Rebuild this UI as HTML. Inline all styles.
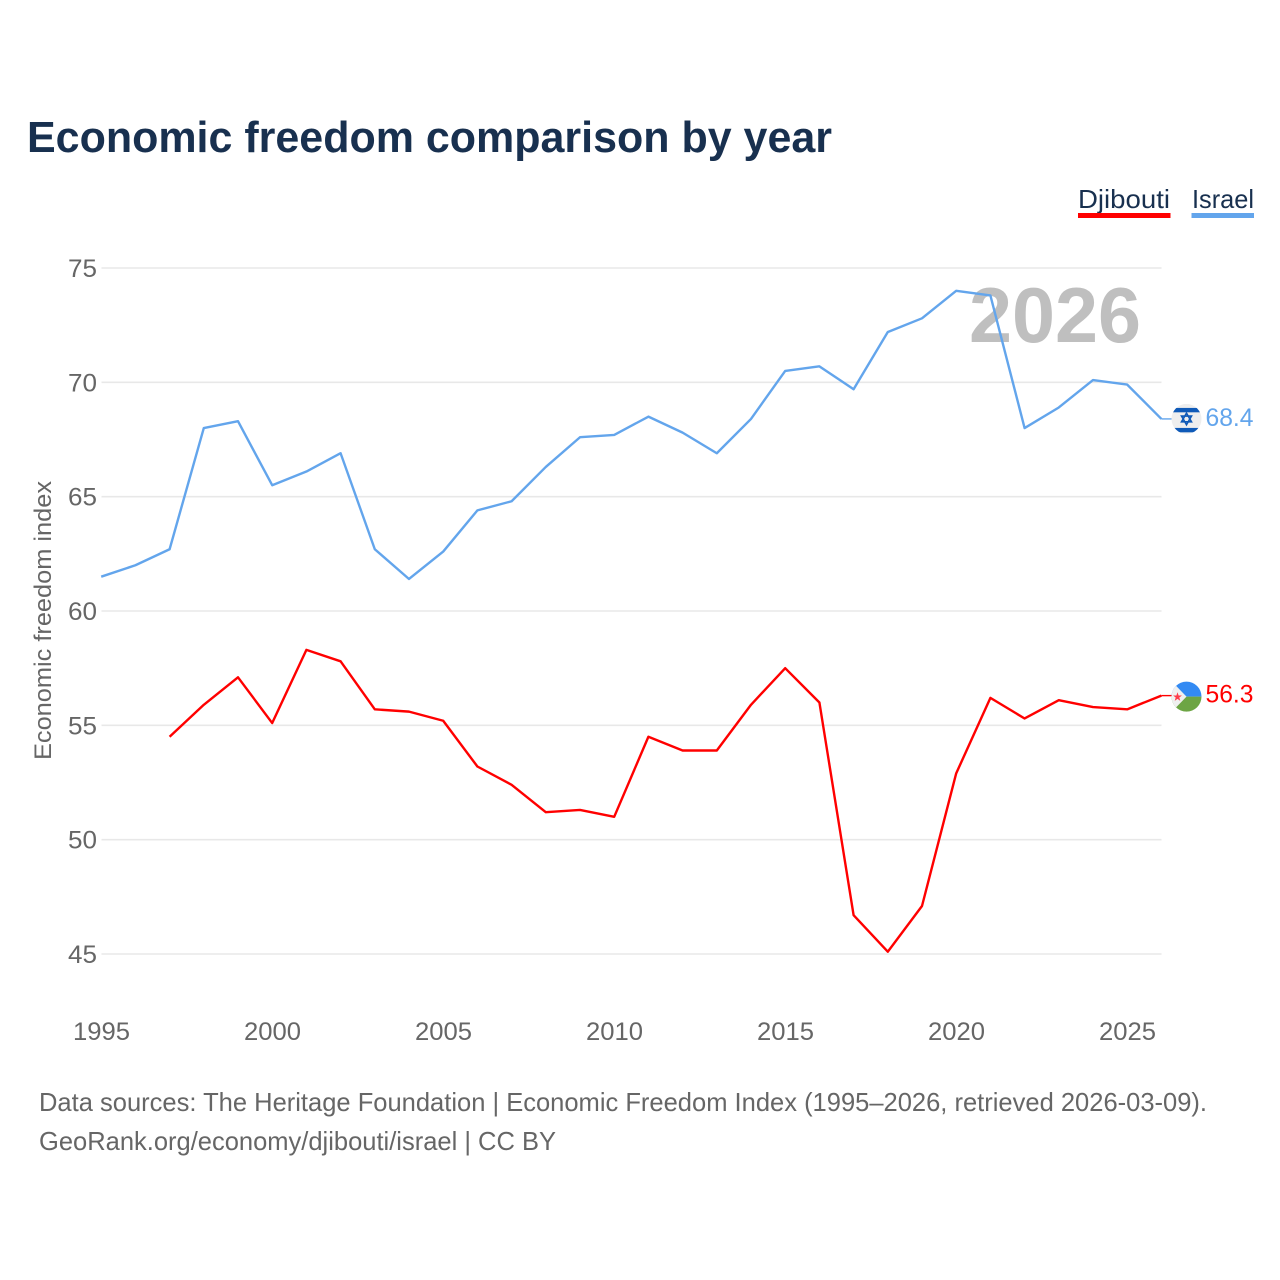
<!DOCTYPE html>
<html lang="en">
<head>
<meta charset="utf-8">
<title>Economic freedom comparison by year</title>
<style>
html,body{margin:0;padding:0;background:#fff;width:1280px;height:1280px;overflow:hidden}
svg{display:block;font-family:"Liberation Sans",sans-serif}
</style>
</head>
<body>
<svg id="chart" width="1280" height="1280" viewBox="0 0 1280 1280" xmlns="http://www.w3.org/2000/svg">
  <defs>
    <clipPath id="il-clip"><circle cx="0" cy="0" r="15"></circle></clipPath>
    <clipPath id="dj-clip"><circle cx="0" cy="0" r="15"></circle></clipPath>
  </defs>
  <text x="27" y="152" font-size="44" font-weight="700" fill="#18304f" textLength="805" lengthAdjust="spacingAndGlyphs">Economic freedom comparison by year</text>
  <g id="gridlayer"></g>
  <text x="1141" y="342" text-anchor="end" font-size="78" font-weight="700" fill="#bfbfbf" textLength="172" lengthAdjust="spacingAndGlyphs">2026</text>
  <g id="linelayer"></g>
  <g id="endlayer"></g>
  <g id="xlayer"></g>
  <text transform="translate(51,620.5) rotate(-90)" text-anchor="middle" font-size="24" fill="#666666" textLength="279" lengthAdjust="spacingAndGlyphs">Economic freedom index</text>
  <g>
    <text x="1078" y="208" font-size="26" fill="#18304f" textLength="92" lengthAdjust="spacingAndGlyphs">Djibouti</text>
    <rect x="1078" y="213" width="92.5" height="5" fill="#ff0000"></rect>
  </g>
  <g>
    <text x="1192" y="208" font-size="26" fill="#18304f" textLength="62" lengthAdjust="spacingAndGlyphs">Israel</text>
    <rect x="1191.5" y="213" width="62.5" height="5" fill="#63a5ec"></rect>
  </g>
  <text x="39" y="1111" font-size="26" fill="#666666" textLength="1168" lengthAdjust="spacingAndGlyphs">Data sources: The Heritage Foundation | Economic Freedom Index (1995–2026, retrieved 2026-03-09).</text>
  <text x="39" y="1150" font-size="26" fill="#666666" textLength="517" lengthAdjust="spacingAndGlyphs">GeoRank.org/economy/djibouti/israel | CC BY</text>
</svg>
<script>
const years = [1995,1996,1997,1998,1999,2000,2001,2002,2003,2004,2005,2006,2007,2008,2009,2010,2011,2012,2013,2014,2015,2016,2017,2018,2019,2020,2021,2022,2023,2024,2025,2026];
const israelValues = [61.5,62.0,62.7,68.0,68.3,65.5,66.1,66.9,62.7,61.4,62.6,64.4,64.8,66.3,67.6,67.7,68.5,67.8,66.9,68.4,70.5,70.7,69.7,72.2,72.8,74.0,73.8,68.0,68.9,70.1,69.9,68.4];
const djiboutiValues = [null,null,54.5,55.9,57.1,55.1,58.3,57.8,55.7,55.6,55.2,53.2,52.4,51.2,51.3,51.0,54.5,53.9,53.9,55.9,57.5,56.0,46.7,45.1,47.1,52.9,56.2,55.3,56.1,55.8,55.7,56.3];
const yTicks = [45,50,55,60,65,70,75];
const xTicks = [1995,2000,2005,2010,2015,2020,2025];

const NS = 'http://www.w3.org/2000/svg';
const xScale = function (year) { return 101.2 + (year - 1995) * 34.2; };
const yScale = function (value) { return 268 + (75 - value) * 22.867; };
const make = function (tag, parent) {
  const el = document.createElementNS(NS, tag);
  parent.appendChild(el);
  return el;
};
const gridLayer = document.getElementById('gridlayer');
const lineLayer = document.getElementById('linelayer');
const endLayer = document.getElementById('endlayer');
const xLayer = document.getElementById('xlayer');

yTicks.forEach(function (tick) {
  const line = make('line', gridLayer);
  
  
  line.setAttribute('x1', 101.5);
  line.setAttribute('x2', 1161.5);
  line.setAttribute('y1', yScale(tick));
  line.setAttribute('y2', yScale(tick));
  line.setAttribute('stroke', '#e8e8e8');
  line.setAttribute('stroke-width', '1.6');
  const label = make('text', gridLayer);
  
  
  label.setAttribute('x', 97);
  label.setAttribute('y', yScale(tick) + 9);
  label.setAttribute('text-anchor', 'end');
  label.setAttribute('font-size', '25');
  label.setAttribute('fill', '#666666');
  label.setAttribute('textLength', '29');
  label.setAttribute('lengthAdjust', 'spacingAndGlyphs');
  label.textContent = tick;
});

xTicks.forEach(function (tick) {
  const label = make('text', xLayer);
  
  
  label.setAttribute('x', xScale(tick) + 0.3);
  label.setAttribute('y', 1040);
  label.setAttribute('text-anchor', 'middle');
  label.setAttribute('font-size', '25');
  label.setAttribute('fill', '#666666');
  label.setAttribute('textLength', '57');
  label.setAttribute('lengthAdjust', 'spacingAndGlyphs');
  label.textContent = tick;
});

const linePoints = function (values) {
  const pts = [];
  values.forEach(function (v, i) {
    if (v !== null) { pts.push(xScale(years[i]).toFixed(2) + ',' + yScale(v).toFixed(2)); }
  });
  return pts.join(' ');
};

const israelLine = make('polyline', lineLayer);


israelLine.setAttribute('points', linePoints(israelValues));
israelLine.setAttribute('fill', 'none');
israelLine.setAttribute('stroke', '#63a5ec');
israelLine.setAttribute('stroke-width', '2.4');
israelLine.setAttribute('stroke-linejoin', 'round');

const djiboutiLine = make('polyline', lineLayer);


djiboutiLine.setAttribute('points', linePoints(djiboutiValues));
djiboutiLine.setAttribute('fill', 'none');
djiboutiLine.setAttribute('stroke', '#ff0000');
djiboutiLine.setAttribute('stroke-width', '2.4');
djiboutiLine.setAttribute('stroke-linejoin', 'round');

const lastX = xScale(years[years.length - 1]);
const flagX = 1186.5;

/* Israel end marker */
const ilY = yScale(israelValues[israelValues.length - 1]);
const ilConn = make('line', endLayer);


ilConn.setAttribute('x1', lastX);
ilConn.setAttribute('x2', flagX - 14);
ilConn.setAttribute('y1', ilY);
ilConn.setAttribute('y2', ilY);
ilConn.setAttribute('stroke', '#63a5ec');
ilConn.setAttribute('stroke-width', '1.4');
const ilFlag = make('g', endLayer);


ilFlag.setAttribute('transform', 'translate(' + flagX + ',' + ilY + ')');
ilFlag.innerHTML = '<g clip-path="url(#il-clip)"><rect x="-15" y="-15" width="30" height="30" fill="#eeeeee"></rect><rect x="-15" y="-11" width="30" height="4.4" fill="#0f5ab8"></rect><rect x="-15" y="9" width="30" height="4.4" fill="#0f5ab8"></rect><path d="M0-5.8L5 2.9H-5Z M0 5.8L-5-2.9H5Z" fill="none" stroke="#0f5ab8" stroke-width="1.6"></path></g>';
const ilLabel = make('text', endLayer);


ilLabel.setAttribute('x', 1205.5);
ilLabel.setAttribute('y', ilY + 7);
ilLabel.setAttribute('font-size', '25');
ilLabel.setAttribute('fill', '#63a5ec');
ilLabel.setAttribute('textLength', '48');
ilLabel.setAttribute('lengthAdjust', 'spacingAndGlyphs');
ilLabel.textContent = israelValues[israelValues.length - 1].toFixed(1);

/* Djibouti end marker */
const djY = yScale(djiboutiValues[djiboutiValues.length - 1]);
const djConn = make('line', endLayer);


djConn.setAttribute('x1', lastX);
djConn.setAttribute('x2', flagX - 14);
djConn.setAttribute('y1', djY);
djConn.setAttribute('y2', djY);
djConn.setAttribute('stroke', '#ff0000');
djConn.setAttribute('stroke-width', '1.4');
const djFlag = make('g', endLayer);


djFlag.setAttribute('transform', 'translate(' + flagX + ',' + (djY + 1) + ')');
djFlag.innerHTML = '<g clip-path="url(#dj-clip)"><rect x="-15" y="-16" width="30" height="16" fill="#338af3"></rect><rect x="-15" y="0" width="30" height="16" fill="#6da544"></rect><path d="M-15-15.5L-15 15.5L0 0Z" fill="#f0f0f0"></path><path d="M-9-4.4L-7.9-1.1H-4.6L-7.2 0.9L-6.2 4.2L-9 2.2L-11.8 4.2L-10.8 0.9L-13.4-1.1H-10.1Z" fill="#ff3b4a"></path></g>';
const djLabel = make('text', endLayer);


djLabel.setAttribute('x', 1205.5);
djLabel.setAttribute('y', djY + 7);
djLabel.setAttribute('font-size', '25');
djLabel.setAttribute('fill', '#ff0000');
djLabel.setAttribute('textLength', '48');
djLabel.setAttribute('lengthAdjust', 'spacingAndGlyphs');
djLabel.textContent = djiboutiValues[djiboutiValues.length - 1].toFixed(1);
</script>
</body>
</html>
